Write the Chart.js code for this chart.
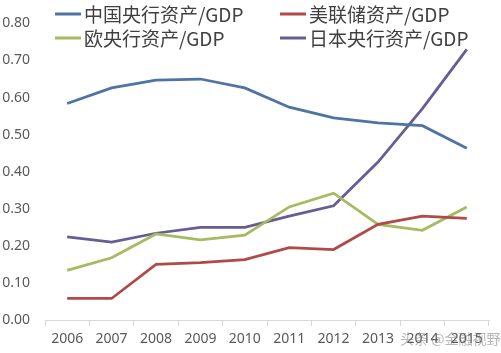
<!DOCTYPE html>
<html>
<head>
<meta charset="utf-8">
<script src="https://cdn.jsdelivr.net/npm/chart.js@4"></script>
<style>
  html, body { margin: 0; padding: 0; background: #fff; }
  #wrap { width: 501px; height: 353px; position: relative; }
</style>
</head>
<body>
<div id="wrap"><canvas id="chart"></canvas></div>
<script>
// 年份与各央行资产/GDP
const years = ['2006', '2007', '2008', '2009', '2010', '2011', '2012', '2013', '2014', '2015'];
const chinaValues = [0.584, 0.626, 0.647, 0.650, 0.626, 0.574, 0.545, 0.532, 0.524, 0.463];
const fedValues = [0.058, 0.058, 0.150, 0.155, 0.163, 0.195, 0.190, 0.258, 0.280, 0.274];
const ecbValues = [0.134, 0.168, 0.232, 0.216, 0.229, 0.305, 0.342, 0.258, 0.242, 0.305];
const japanValues = [0.224, 0.210, 0.234, 0.250, 0.250, 0.280, 0.308, 0.426, 0.570, 0.730];
const seriesNames = ['中国央行资产/GDP', '美联储资产/GDP', '欧央行资产/GDP', '日本央行资产/GDP'];
const yTicks = [0, 0.1, 0.2, 0.3, 0.4, 0.5, 0.6, 0.7, 0.8];

const colors = ['#4d74a3', '#b04a48', '#a4bb5f', '#665d94'];

// 图例：两列两行，手工绘制
const legendPlugin = {
    id: 'gridLegend',
    afterDraw(chart) {
        const ctx = chart.ctx;
        const spots = [[55, 14], [280, 14], [55, 38], [280, 38]];
        ctx.save();
        ctx.font = '19px "Noto Sans CJK SC", "Noto Sans", sans-serif';
        ctx.textBaseline = 'middle';
        chart.data.datasets.forEach((ds, i) => {
            const [x, y] = spots[i];
            ctx.strokeStyle = ds.borderColor;
            ctx.lineWidth = 3;
            ctx.beginPath();
            ctx.moveTo(x, y);
            ctx.lineTo(x + 26, y);
            ctx.stroke();
            ctx.fillStyle = '#404040';
            ctx.fillText(ds.label, x + 29, y + 1);
        });
        // 水印
        ctx.font = '14px "Noto Sans CJK SC", sans-serif';
        ctx.fillStyle = 'rgba(120,120,120,0.55)';
        ctx.fillText('头条 @金融视野', 400, 339);
        ctx.restore();
    }
};

new Chart(document.getElementById('chart'), {
    type: 'line',
    data: {
        labels: years,
        datasets: [chinaValues, fedValues, ecbValues, japanValues].map((vals, i) => ({
            label: seriesNames[i],
            data: vals,
            borderColor: colors[i],
            backgroundColor: colors[i],
            borderWidth: 2.75,
            pointRadius: 0,
            tension: 0,
            fill: false
        }))
    },
    options: {
        responsive: true,
        maintainAspectRatio: false,
        animation: false,
        layout: { padding: { left: 0, right: 12, top: 16, bottom: 0 } },
        plugins: {
            legend: { display: false },
            tooltip: { enabled: false }
        },
        scales: {
            x: {
                offset: true,
                grid: {
                    offset: true,
                    drawOnChartArea: false,
                    drawTicks: true,
                    tickLength: 6,
                    color: '#d9d9d9'
                },
                border: { display: true, color: '#d9d9d9', width: 1 },
                ticks: {
                    color: '#595959',
                    font: { family: 'Noto Sans', size: 14 },
                    padding: 5,
                    maxRotation: 0
                },
                afterFit(scale) { scale.height = 33; }
            },
            y: {
                min: 0,
                max: 0.8,
                grid: { display: false, drawTicks: false },
                border: { display: false },
                afterBuildTicks(scale) {
                    scale.ticks = yTicks.map(v => ({ value: v }));
                },
                ticks: {
                    color: '#595959',
                    font: { family: 'Noto Sans', size: 14 },
                    padding: 15,
                    callback: v => v.toFixed(2)
                },
                afterFit(scale) { scale.width = 45; }
            }
        }
    },
    plugins: [legendPlugin]
});
</script>
</body>
</html>
